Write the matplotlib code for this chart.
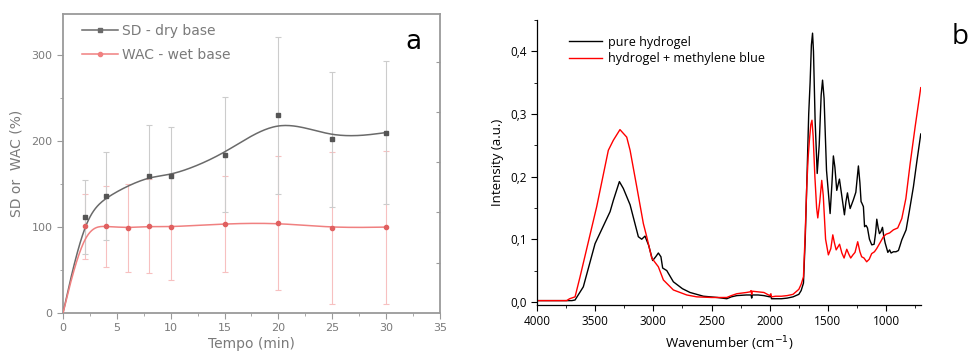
import numpy as np
import matplotlib
matplotlib.use("Agg")
import matplotlib.pyplot as plt
from matplotlib.lines import Line2D
from matplotlib.ticker import FuncFormatter, MultipleLocator

# ---------------- Panel a data ----------------
sd_time = [0, 2, 4, 8, 10, 15, 20, 25, 30]
sd_values = [0, 112, 136, 160, 159, 184, 230, 202, 210]
sd_err = [0, 43, 51, 59, 58, 67, 91, 79, 83]

wac_time = [0, 2, 4, 6, 8, 10, 15, 20, 25, 30]
wac_values = [0, 101, 101, 99, 101, 100, 104, 105, 99, 100]
wac_err = [0, 38, 47, 51, 55, 62, 56, 78, 88, 89]

# ---------------- Panel b data ----------------
wn_pure = [4000, 3750, 3700, 3673, 3602, 3501, 3372, 3344, 3292, 3258, 3200, 3129,
           3100, 3072, 3040, 3006, 2980, 2957, 2935, 2920, 2885, 2828, 2750, 2685, 2570,
           2450, 2369, 2330, 2283, 2200, 2160, 2155, 2150, 2100, 2050, 2000, 1990,
           1985, 1950, 1900, 1850, 1800, 1750, 1730, 1710, 1695, 1682, 1665, 1653,
           1642, 1632, 1624, 1610, 1592, 1575, 1558, 1546, 1533, 1512, 1481, 1465,
           1453, 1440, 1424, 1401, 1385, 1358, 1345, 1332, 1320, 1309, 1281, 1260,
           1238, 1225, 1215, 1209, 1195, 1185, 1172, 1160, 1143, 1123, 1103, 1090,
           1080, 1068, 1057, 1045, 1031, 1020, 1008, 985, 970, 957, 937, 915, 894,
           880, 865, 828, 800, 765, 735, 702]
int_pure = [0.002, 0.002, 0.002, 0.003, 0.024, 0.093, 0.144, 0.162, 0.192, 0.181, 0.155, 0.104,
            0.100, 0.105, 0.090, 0.066, 0.072, 0.078, 0.072, 0.054, 0.050, 0.032, 0.021, 0.015, 0.009,
            0.007, 0.005, 0.008, 0.010, 0.011, 0.011, 0.006, 0.011, 0.011, 0.010, 0.008, 0.010,
            0.005, 0.005, 0.005, 0.006, 0.008, 0.012, 0.018, 0.030, 0.100, 0.184, 0.300, 0.350,
            0.410, 0.429, 0.400, 0.290, 0.205, 0.250, 0.330, 0.354, 0.325, 0.210, 0.141, 0.190,
            0.233, 0.215, 0.178, 0.196, 0.175, 0.139, 0.160, 0.174, 0.160, 0.149, 0.163, 0.175,
            0.217, 0.190, 0.160, 0.158, 0.152, 0.120, 0.122, 0.118, 0.100, 0.091, 0.092, 0.110,
            0.132, 0.118, 0.109, 0.112, 0.119, 0.105, 0.094, 0.079, 0.083, 0.078, 0.080, 0.080, 0.082,
            0.090, 0.099, 0.115, 0.145, 0.184, 0.225, 0.268]

wn_mb = [4000, 3745, 3720, 3673, 3630, 3487, 3387, 3344, 3287, 3229, 3200, 3143,
         3086, 3057, 3014, 2957, 2914, 2828, 2713, 2627, 2500, 2369, 2330, 2283, 2200,
         2169, 2160, 2155, 2150, 2100, 2050, 2000, 1990, 1985, 1950, 1900, 1850, 1800,
         1750, 1730, 1710, 1695, 1682, 1670, 1659, 1647, 1637, 1627, 1612, 1597, 1587,
         1570, 1553, 1540, 1520, 1496, 1475, 1458, 1445, 1429, 1400, 1380, 1361, 1338,
         1320, 1304, 1285, 1267, 1244, 1225, 1210, 1190, 1167, 1145, 1124, 1100, 1081,
         1050, 1023, 1000, 970, 937, 900, 865, 830, 793, 750, 702]
int_mb = [0.002, 0.002, 0.005, 0.008, 0.040, 0.152, 0.242, 0.258, 0.275, 0.263, 0.242, 0.184,
          0.125, 0.104, 0.070, 0.056, 0.035, 0.019, 0.011, 0.008, 0.007, 0.007, 0.010, 0.013, 0.015,
          0.016, 0.018, 0.012, 0.017, 0.016, 0.015, 0.010, 0.013, 0.008, 0.009, 0.009, 0.010, 0.012,
          0.020, 0.028, 0.040, 0.110, 0.184, 0.230, 0.258, 0.283, 0.290, 0.265, 0.200, 0.150, 0.134,
          0.160, 0.194, 0.170, 0.100, 0.075, 0.085, 0.107, 0.095, 0.083, 0.092, 0.078, 0.070, 0.084,
          0.076, 0.070, 0.075, 0.079, 0.096, 0.080, 0.072, 0.070, 0.064, 0.068, 0.077, 0.080, 0.085,
          0.095, 0.104, 0.108, 0.110, 0.115, 0.118, 0.133, 0.165, 0.221, 0.280, 0.342]


def bspline(xs, ys, n=40):
    """Clamped uniform cubic B-spline drawn with the data points as control points."""
    px = np.array([xs[0], xs[0]] + list(xs) + [xs[-1], xs[-1]], float)
    py = np.array([ys[0], ys[0]] + list(ys) + [ys[-1], ys[-1]], float)
    outx, outy = [], []
    t = np.linspace(0, 1, n)
    b0 = (1 - t) ** 3 / 6
    b1 = (3 * t ** 3 - 6 * t ** 2 + 4) / 6
    b2 = (-3 * t ** 3 + 3 * t ** 2 + 3 * t + 1) / 6
    b3 = t ** 3 / 6
    for i in range(len(px) - 3):
        outx.append(b0 * px[i] + b1 * px[i + 1] + b2 * px[i + 2] + b3 * px[i + 3])
        outy.append(b0 * py[i] + b1 * py[i + 1] + b2 * py[i + 2] + b3 * py[i + 3])
    return np.concatenate(outx), np.concatenate(outy)


fig = plt.figure(figsize=(9.69, 3.54), dpi=100)

# ================= Panel a =================
gray = "#7a7a7a"
ax1 = fig.add_axes([63 / 969, 1 - 313 / 354, (440 - 63) / 969, (313 - 14) / 354])
ax1.errorbar(wac_time[1:], wac_values[1:], yerr=wac_err[1:], fmt="none",
             ecolor="#f7c0c0", elinewidth=0.8, capsize=2, capthick=0.8, zorder=1)
ax1.errorbar(sd_time[1:], sd_values[1:], yerr=sd_err[1:], fmt="none",
             ecolor="#cccccc", elinewidth=0.8, capsize=2, capthick=0.8, zorder=1)
bx, by = bspline(sd_time, sd_values)
ax1.plot(bx, by, color="#6a6a6a", lw=1.1, zorder=3)
rx, ry = bspline(wac_time, wac_values)
ax1.plot(rx, ry, color="#f08080", lw=1.1, zorder=3)
ax1.plot(sd_time[1:], sd_values[1:], "s", color="#555555", ms=3, zorder=4)
ax1.plot(wac_time[1:], wac_values[1:], "o", color="#e06060", ms=3, zorder=4)

ax1.set_xlim(0, 35)
ax1.set_ylim(0, 348)
ax1.set_xticks(range(0, 36, 5))
ax1.set_yticks([0, 100, 200, 300])
ax1.xaxis.set_minor_locator(MultipleLocator(2.5))
ax1.yaxis.set_minor_locator(MultipleLocator(50))
for sp in ax1.spines.values():
    sp.set_color("#9a9a9a")
    sp.set_linewidth(1.3)
ax1.tick_params(which="both", direction="out", colors="#9a9a9a", labelcolor=gray,
                labelsize=8, right=False, top=False)
ax1.tick_params(which="major", length=4)
ax1.tick_params(which="minor", length=2.5)
ax1.set_ylabel("SD or  WAC (%)", color=gray, fontsize=10, labelpad=6)
ax1.set_xlabel("Tempo (min)", color=gray, fontsize=10)
ax1.xaxis.set_label_coords(0.5, -0.08)

axr = ax1.twinx()
axr.set_ylim(0, 5.95)
axr.set_yticks([1, 2, 3, 4, 5])
axr.set_yticklabels([])
axr.tick_params(direction="in", colors="#9a9a9a", length=3)
for sp in axr.spines.values():
    sp.set_visible(False)

handles = [Line2D([], [], color="#6a6a6a", marker="s", ms=3, lw=1.1),
           Line2D([], [], color="#f08080", marker="o", ms=3, lw=1.1)]
leg = ax1.legend(handles, ["SD - dry base", "WAC - wet base"], loc="upper left",
                 bbox_to_anchor=(0.025, 1.0), frameon=False, fontsize=10,
                 handlelength=2.6, handletextpad=0.3, borderaxespad=0.3,
                 labelspacing=0.75)
for t in leg.get_texts():
    t.set_color(gray)

fig.text(413 / 969, 1 - 42 / 354, "a", fontsize=19, ha="center", va="center",
         family="DejaVu Sans")

# ================= Panel b =================
ax2 = fig.add_axes([537 / 969, 1 - 305 / 354, (921 - 537) / 969, (305 - 20) / 354])
ax2.plot(wn_pure, int_pure, color="black", lw=1.0, label="pure hydrogel")
ax2.plot(wn_mb, int_mb, color="#ff0000", lw=1.0, label="hydrogel + methylene blue")
ax2.set_xlim(4000, 700)
ax2.set_ylim(-0.005, 0.45)
ax2.set_xticks([4000, 3500, 3000, 2500, 2000, 1500, 1000])
ax2.set_yticks([0.0, 0.1, 0.2, 0.3, 0.4])
ax2.xaxis.set_minor_locator(MultipleLocator(250))
ax2.yaxis.set_minor_locator(MultipleLocator(0.05))
ax2.yaxis.set_major_formatter(FuncFormatter(lambda v, p: f"{v:.1f}".replace(".", ",")))
ax2.spines["top"].set_visible(False)
ax2.spines["right"].set_visible(False)
for s in ("left", "bottom"):
    ax2.spines[s].set_linewidth(0.9)
ax2.tick_params(which="both", direction="out", labelsize=8.5)
ax2.tick_params(which="major", length=4)
ax2.tick_params(which="minor", length=2.5)
for lab in ax2.get_xticklabels() + ax2.get_yticklabels():
    lab.set_family("Open Sans")
ax2.set_ylabel("Intensity (a.u.)", fontsize=9.5, family="Open Sans", labelpad=4)
ax2.set_xlabel("Wavenumber (cm$^{-1}$)", fontsize=9.5, family="Open Sans", labelpad=4)
leg2 = ax2.legend(loc="upper left", bbox_to_anchor=(0.055, 0.985), frameon=False,
                  handlelength=2.6, handletextpad=0.5, labelspacing=0.3,
                  prop={"family": "Open Sans", "size": 9})

fig.text(960 / 969, 1 - 37 / 354, "b", fontsize=20, ha="center", va="center",
         family="Open Sans")

fig.savefig("out.png", dpi=100)
